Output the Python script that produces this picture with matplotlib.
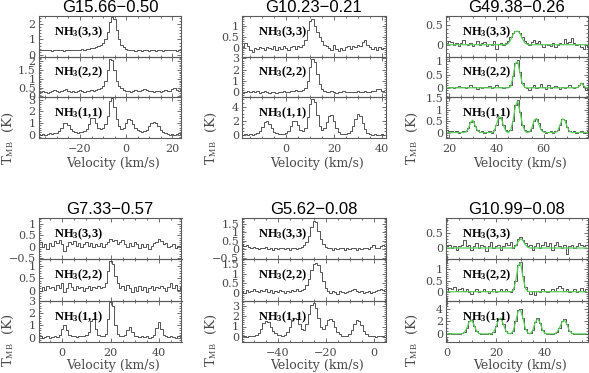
import numpy as np
import matplotlib
matplotlib.use('Agg')
import matplotlib.pyplot as plt
from matplotlib.ticker import MultipleLocator, FuncFormatter

plt.rcParams['font.family'] = 'DejaVu Serif'
plt.rcParams['mathtext.fontset'] = 'custom'
plt.rcParams['mathtext.rm'] = 'Liberation Serif'
plt.rcParams['mathtext.it'] = 'Liberation Serif:italic'
plt.rcParams['mathtext.bf'] = 'Liberation Serif:bold'

# ---------------- data (T_MB in K, 1 km/s channels) ----------------
titles = ['G15.66\u22120.50', 'G10.23\u22120.21', 'G49.38\u22120.26',
          'G7.33\u22120.57', 'G5.62\u22120.08', 'G10.99\u22120.08']
line_labels = [r'NH$_\mathbf{3}$(3,3)', r'NH$_\mathbf{3}$(2,2)', r'NH$_\mathbf{3}$(1,1)']
chan_width = 1.0

# G15.66-0.50, first channel -38 km/s
g15_vstart = -38
g15_33 = [0.3, 0.35, 0.3, 0.3, 0.35, 0.3, 0.25, 0.3, 0.35, 0.3,
          0.3, 0.25, 0.3, 0.35, 0.3, 0.3, 0.35, 0.3, 0.35, 0.4,
          0.35, 0.4, 0.4, 0.45, 0.45, 0.5, 0.55, 0.65, 0.8, 1.05,
          1.45, 2.1, 2.45, 2.3, 1.6, 1.0, 0.65, 0.5, 0.4, 0.35,
          0.3, 0.3, 0.25, 0.3, 0.3, 0.25, 0.3, 0.3, 0.25, 0.3,
          0.3, 0.25, 0.3, 0.3, 0.25, 0.3, 0.35, 0.3, 0.35, 0.3,
          0.25, 0.3, 0.3]
g15_22 = [0.2, 0.25, 0.3, 0.25, 0.2, 0.25, 0.3, 0.35, 0.3, 0.25,
          0.3, 0.35, 0.4, 0.3, 0.25, 0.3, 0.25, 0.3, 0.35, 0.3,
          0.25, 0.3, 0.3, 0.35, 0.3, 0.35, 0.4, 0.45, 0.6, 0.9,
          1.5, 2.1, 2.05, 1.5, 0.9, 0.6, 0.45, 0.35, 0.3, 0.3,
          0.25, 0.3, 0.35, 0.3, 0.3, 0.35, 0.4, 0.35, 0.3, 0.3,
          0.25, 0.3, 0.3, 0.25, 0.3, 0.35, 0.3, 0.3, 0.4, 0.45,
          0.35, 0.3, 0.35]
g15_11 = [0.05, 0.0, 0.05, 0.0, 0.05, 0.1, 0.05, 0.1, 0.15, 0.3,
          0.6, 0.95, 1.0, 0.8, 0.5, 0.3, 0.2, 0.15, 0.2, 0.25,
          0.3, 0.5, 0.9, 1.4, 1.45, 1.0, 0.6, 0.5, 0.6, 0.9,
          1.6, 2.9, 3.1, 2.4, 1.3, 0.7, 0.5, 0.6, 1.0, 1.3,
          1.25, 0.9, 0.6, 0.4, 0.3, 0.25, 0.3, 0.4, 0.7, 1.0,
          1.1, 1.0, 0.7, 0.4, 0.25, 0.1, 0.05, 0.0, 0.05, 0.0,
          0.05, 0.1, 0.05]

# G10.23-0.21, first channel -18 km/s
g1023_vstart = -18
g1023_33 = [0.05, 0.2, 0.1, -0.1, -0.2, 0.0, -0.05, 0.05, 0.0, -0.1,
            0.05, 0.0, -0.05, 0.1, -0.1, 0.05, -0.05, 0.1, 0.0, -0.1,
            0.05, 0.1, -0.05, 0.1, 0.05, 0.15, 0.35, 0.8, 1.2, 1.3,
            1.0, 0.7, 0.5, 0.3, 0.15, 0.1, 0.0, -0.1, 0.15, -0.05,
            -0.15, 0.0, -0.1, 0.05, 0.1, -0.05, 0.1, 0.05, 0.15, 0.1,
            0.25, 0.35, 0.15, 0.05, -0.05, 0.05, -0.1, 0.05, -0.05, 0.0]
g1023_22 = [-0.1, 0.0, 0.1, 0.0, 0.15, 0.05, 0.1, -0.05, 0.0, 0.1,
            0.0, -0.1, 0.0, 0.05, -0.05, 0.0, 0.05, 0.1, 0.0, 0.05,
            0.15, 0.1, 0.2, 0.15, 0.1, 0.2, 0.4, 1.0, 2.2, 2.95,
            2.7, 1.6, 0.7, 0.3, 0.15, 0.05, 0.0, 0.1, 0.0, -0.05,
            0.05, 0.0, 0.1, 0.05, 0.0, 0.05, 0.0, 0.05, 0.1, 0.05,
            0.0, 0.1, 0.05, 0.0, 0.1, 0.15, 0.25, 0.3, 0.15, 0.1]
g1023_11 = [0.0, 0.1, 0.0, 0.05, 0.0, 0.1, 0.2, 0.5, 1.1, 1.8,
            1.95, 1.5, 0.9, 0.4, 0.2, 0.1, 0.05, 0.1, 0.2, 0.5,
            1.2, 1.9, 2.0, 1.4, 0.7, 0.5, 0.9, 2.5, 4.3, 5.0,
            4.6, 2.8, 1.2, 0.7, 0.9, 1.8, 2.7, 2.8, 2.0, 1.0,
            0.4, 0.15, 0.05, 0.1, 0.2, 0.5, 1.2, 2.2, 2.9, 2.7,
            1.7, 0.8, 0.3, 0.1, 0.0, 0.05, -0.05, 0.0, 0.05, 0.0]

# G49.38-0.26, first channel 19 km/s (with model fits)
g49_vstart = 19
g49_33 = [0.05, 0.1, 0.08, 0.0, 0.05, -0.02, 0.05, 0.12, 0.03, 0.0,
          0.05, -0.03, 0.02, 0.1, 0.0, 0.05, 0.08, -0.02, 0.03, 0.0,
          0.1, -0.1, 0.02, 0.05, 0.0, 0.05, 0.1, 0.2, 0.3, 0.35,
          0.35, 0.3, 0.2, 0.1, 0.05, 0.0, 0.08, 0.12, 0.05, 0.1,
          0.02, -0.05, 0.03, 0.0, -0.02, 0.05, -0.05, 0.0, 0.05, 0.02,
          0.15, 0.05, 0.08, 0.18, 0.05, 0.0, 0.02, -0.05, -0.12, 0.0,
          -0.05]
g49_22 = [0.0, 0.05, 0.02, 0.0, 0.05, 0.08, 0.03, 0.05, 0.0, 0.05,
          0.1, 0.05, 0.02, -0.05, 0.03, 0.0, 0.05, 0.02, 0.08, 0.0,
          0.05, 0.1, 0.02, 0.05, 0.0, 0.05, 0.05, 0.1, 0.45, 0.95,
          1.05, 0.6, 0.2, 0.05, 0.0, -0.1, 0.05, 0.1, 0.0, 0.05,
          0.15, 0.05, -0.05, 0.1, 0.0, 0.05, 0.08, 0.02, -0.05, 0.05,
          0.0, 0.03, 0.1, 0.05, 0.0, 0.05, 0.1, 0.2, 0.05, -0.1,
          0.05]
g49_11 = [0.1, 0.08, 0.05, 0.03, 0.05, 0.0, 0.03, 0.05, 0.08, 0.2,
          0.45, 0.5, 0.3, 0.1, 0.03, 0.05, 0.0, 0.02, 0.05, 0.0,
          0.1, 0.35, 0.65, 0.7, 0.35, 0.1, 0.05, 0.1, 0.5, 1.2,
          1.45, 0.9, 0.35, 0.1, 0.05, 0.05, 0.2, 0.5, 0.6, 0.4,
          0.15, 0.05, 0.0, 0.03, 0.05, 0.0, 0.05, 0.1, 0.35, 0.6,
          0.55, 0.25, 0.08, 0.03, 0.05, 0.0, 0.02, 0.05, 0.0, 0.03,
          0.05]
g49_fit33 = [0, 0, 0, 0, 0, 0, 0, 0, 0, 0,
             0, 0, 0, 0, 0, 0, 0, 0, 0, 0,
             0, 0, 0, 0, 0, 0, 0.03, 0.12, 0.25, 0.33,
             0.34, 0.28, 0.15, 0.05, 0.01, 0, 0, 0, 0, 0,
             0, 0, 0, 0, 0, 0, 0, 0, 0, 0,
             0, 0, 0, 0, 0, 0, 0, 0, 0, 0,
             0]
g49_fit22 = [0, 0, 0, 0, 0, 0, 0, 0, 0, 0,
             0, 0, 0, 0, 0, 0, 0, 0, 0, 0,
             0, 0, 0, 0, 0, 0, 0, 0.05, 0.4, 0.92,
             1.0, 0.55, 0.15, 0.02, 0, 0, 0, 0, 0, 0,
             0, 0, 0, 0, 0, 0, 0, 0, 0, 0,
             0, 0, 0, 0, 0, 0, 0.05, 0.18, 0.08, 0,
             0]
g49_fit11 = [0, 0, 0, 0, 0, 0, 0, 0, 0.02, 0.15,
             0.45, 0.55, 0.3, 0.08, 0.01, 0, 0, 0, 0, 0,
             0.05, 0.35, 0.7, 0.65, 0.3, 0.06, 0, 0.1, 0.5, 1.15,
             1.4, 0.9, 0.35, 0.08, 0, 0.03, 0.2, 0.55, 0.62, 0.35,
             0.1, 0.02, 0, 0, 0, 0, 0, 0.08, 0.35, 0.6,
             0.55, 0.25, 0.05, 0, 0, 0, 0, 0, 0, 0,
             0]

# G7.33-0.57, first channel -10 km/s
g733_vstart = -10
g733_33 = [0.1, 0.2, 0.0, 0.1, -0.1, 0.15, 0.05, 0.25, 0.15, 0.3,
           0.1, -0.2, 0.05, 0.2, 0.1, 0.25, 0.05, 0.15, 0.0, 0.1,
           0.2, 0.05, 0.15, 0.0, 0.1, 0.05, 0.15, 0.0, 0.1, 0.2,
           0.35, 0.25, 0.3, 0.1, 0.2, 0.3, 0.1, 0.0, 0.15, 0.05,
           0.2, 0.1, -0.05, 0.1, 0.0, 0.1, -0.1, 0.05, 0.15, 0.2,
           0.35, 0.25, 0.1, 0.15, 0.0, 0.05, 0.1, -0.05, 0.05, 0.0]
g733_22 = [0.1, 0.0, 0.15, 0.05, 0.2, 0.1, 0.15, 0.05, 0.25, 0.1,
           0.3, -0.05, 0.1, 0.3, 0.15, 0.05, 0.2, 0.1, 0.15, 0.0,
           0.1, 0.2, 0.05, 0.15, 0.1, 0.2, 0.1, 0.15, 0.3, 0.8,
           1.2, 1.1, 0.6, 0.3, 0.1, 0.2, 0.05, 0.25, 0.1, -0.05,
           0.15, 0.0, 0.2, 0.05, 0.15, -0.05, 0.1, 0.2, 0.05, 0.15,
           0.1, 0.2, 0.1, 0.0, 0.15, 0.3, 0.1, 0.25, 0.05, 0.15]
g733_11 = [0.05, 0.1, 0.0, 0.05, 0.1, 0.0, 0.05, 0.1, 0.05, 0.2,
           0.7, 1.0, 0.6, 0.2, 0.1, 0.15, 0.05, 0.1, 0.15, 0.1,
           0.2, 0.5, 1.4, 1.55, 0.7, 0.2, 0.1, 0.15, 0.3, 1.5,
           2.95, 2.6, 1.0, 0.3, 0.15, 0.1, 0.2, 0.6, 0.85, 0.5,
           0.15, 0.1, 0.05, 0.1, 0.05, 0.1, 0.0, 0.05, 0.2, 0.8,
           1.25, 0.7, 0.2, 0.1, 0.05, 0.1, 0.05, 0.0, 0.1, 0.05]

# G5.62-0.08, first channel -56 km/s
g562_vstart = -56
g562_33 = [0.15, 0.3, 0.2, 0.25, 0.15, 0.05, 0.15, 0.1, 0.0, 0.1,
           0.05, 0.15, 0.0, 0.05, -0.05, 0.1, 0.0, 0.05, 0.1, 0.0,
           0.05, -0.05, 0.05, 0.1, 0.0, 0.1, 0.15, 0.25, 0.4, 0.8,
           1.3, 1.65, 1.6, 1.1, 0.6, 0.3, 0.15, 0.05, 0.1, -0.05,
           0.05, 0.0, 0.1, 0.05, -0.05, 0.05, 0.0, 0.1, 0.05, -0.05,
           0.05, 0.0, 0.1, 0.05, 0.0, 0.15, 0.25, 0.1, 0.05, 0.2,
           0.25, 0.2]
g562_22 = [0.05, 0.1, 0.0, 0.15, 0.05, 0.1, 0.2, 0.1, 0.05, 0.15,
           0.1, 0.2, 0.05, 0.15, 0.0, 0.1, 0.05, 0.15, 0.1, 0.0,
           0.1, 0.05, 0.15, 0.1, 0.2, 0.1, 0.15, 0.2, 0.4, 0.75,
           1.2, 1.5, 1.55, 1.45, 1.1, 0.6, 0.25, 0.1, 0.0, 0.1,
           0.05, -0.05, 0.1, 0.05, 0.0, 0.05, 0.1, 0.15, 0.2, 0.1,
           0.05, 0.1, 0.0, 0.05, 0.1, 0.0, 0.05, 0.1, 0.15, 0.2,
           0.15, 0.1]
g562_11 = [0.05, 0.1, 0.05, 0.0, 0.1, 0.05, 0.1, 0.2, 0.4, 0.8,
           1.3, 1.5, 1.45, 1.0, 0.6, 0.35, 0.2, 0.15, 0.1, 0.2,
           0.5, 1.0, 1.6, 1.8, 1.7, 1.2, 0.8, 0.7, 1.2, 2.2,
           3.1, 3.3, 2.8, 1.8, 1.0, 0.8, 1.1, 1.6, 1.7, 1.5,
           1.0, 0.5, 0.25, 0.1, 0.05, 0.1, 0.3, 0.7, 1.2, 1.6,
           1.55, 1.1, 0.6, 0.25, 0.1, 0.05, 0.1, 0.0, 0.05, 0.1,
           0.05, 0.0]

# G10.99-0.08, first channel 0 km/s (with model fits)
g1099_vstart = 0
g1099_33 = [0.05, 0.1, 0.0, 0.05, -0.05, 0.05, 0.1, 0.25, 0.05, 0.1,
            -0.05, 0.05, 0.15, 0.0, 0.1, 0.05, -0.1, 0.05, 0.2, 0.0,
            0.05, 0.1, -0.05, 0.05, 0.15, 0.1, 0.2, 0.0, 0.1, 0.3,
            0.35, 0.25, 0.15, 0.05, 0.1, -0.05, 0.05, 0.15, 0.0, 0.1,
            0.2, 0.05, 0.15, -0.05, 0.1, 0.2, 0.05, 0.0, 0.1, -0.2,
            0.05, 0.1, 0.0, 0.05, 0.15, 0.1, 0.05, 0.1]
g1099_22 = [0.05, 0.15, 0.1, 0.2, 0.05, 0.1, 0.15, 0.05, 0.1, 0.0,
            -0.1, 0.05, 0.1, 0.0, 0.05, 0.1, 0.05, -0.05, 0.05, 0.1,
            0.0, 0.05, 0.1, 0.05, 0.1, 0.05, 0.0, 0.1, 0.5, 1.2,
            1.35, 0.7, 0.2, 0.05, -0.1, 0.05, -0.15, 0.05, 0.0, 0.1,
            0.05, 0.0, 0.05, 0.1, 0.05, 0.15, 0.25, 0.15, 0.05, 0.1,
            0.0, 0.05, 0.1, 0.0, 0.05, 0.15, 0.05, 0.1]
g1099_11 = [0.0, 0.1, 0.0, -0.1, 0.05, 0.0, 0.1, 0.3, 1.0, 2.0,
            2.2, 1.3, 0.4, 0.1, 0.0, 0.05, -0.05, 0.1, 0.05, 0.3,
            1.2, 2.4, 2.6, 1.5, 0.5, 0.1, 0.1, 0.5, 2.0, 3.8,
            4.0, 2.6, 0.8, 0.2, 0.1, 0.6, 1.9, 2.5, 1.8, 0.6,
            0.15, 0.0, 0.05, -0.05, 0.1, 0.3, 1.0, 2.0, 2.3, 1.5,
            0.5, 0.1, 0.0, 0.05, -0.05, 0.0, 0.05, 0.0]
g1099_fit33 = [0, 0, 0, 0, 0, 0, 0, 0, 0, 0,
               0, 0, 0, 0, 0, 0, 0, 0, 0, 0,
               0, 0, 0, 0, 0, 0, 0, 0, 0.05, 0.2,
               0.3, 0.25, 0.1, 0.02, 0, 0, 0, 0, 0, 0,
               0, 0, 0, 0, 0, 0, 0, 0, 0, 0,
               0, 0, 0, 0, 0, 0, 0, 0]
g1099_fit22 = [0, 0, 0, 0, 0, 0, 0, 0, 0, 0,
               0, 0, 0, 0, 0, 0, 0, 0, 0, 0,
               0, 0, 0, 0, 0, 0, 0, 0.05, 0.45, 1.15,
               1.3, 0.65, 0.15, 0.02, 0, 0, 0, 0, 0, 0,
               0, 0, 0, 0, 0, 0, 0, 0, 0, 0,
               0, 0, 0, 0, 0, 0, 0, 0]
g1099_fit11 = [0, 0, 0, 0, 0, 0, 0, 0.2, 0.9, 1.9,
               2.2, 1.4, 0.45, 0.08, 0, 0, 0, 0, 0, 0.25,
               1.1, 2.3, 2.5, 1.5, 0.45, 0.08, 0, 0.5, 1.9, 3.6,
               3.8, 2.5, 0.8, 0.15, 0, 0.55, 1.8, 2.4, 1.8, 0.6,
               0.1, 0, 0, 0, 0, 0.3, 1.0, 1.9, 2.2, 1.5,
               0.5, 0.08, 0, 0, 0, 0, 0, 0]

# ---------------- layout / style ----------------
W, H = 589, 373
fig = plt.figure(figsize=(W / 100, H / 100), dpi=100)

col_x = [(38.5, 181.5), (242.0, 385.5), (446.0, 587.5)]
row_y = [(16.0, 138.0), (218.0, 342.0)]
title_y = [7, 209]
xlab_y = [163, 366]
ylab_y = [138, 340]
ylab_x = [8, 211, 412]

panels = [
    dict(vs=g15_vstart, spec=[g15_33, g15_22, g15_11], fit=None,
         xlim=(-38, 24), ylims=[(-0.1, 2.5), (-0.05, 2.25), (-0.3, 3.2)],
         ymaj=[1, 0.5, 1], ymin=[0.2, 0.1, 0.2]),
    dict(vs=g1023_vstart, spec=[g1023_33, g1023_22, g1023_11], fit=None,
         xlim=(-18.5, 41.5), ylims=[(-0.4, 1.45), (-0.45, 3.15), (-0.45, 5.3)],
         ymaj=[0.5, 1, 2], ymin=[0.1, 0.2, 0.5]),
    dict(vs=g49_vstart, spec=[g49_33, g49_22, g49_11],
         fit=[g49_fit33, g49_fit22, g49_fit11],
         xlim=(18.6, 78.6), ylims=[(-0.3, 0.72), (-0.36, 1.18), (-0.24, 1.55)],
         ymaj=[0.5, 0.5, 0.5], ymin=[0.1, 0.1, 0.1]),
    dict(vs=g733_vstart, spec=[g733_33, g733_22, g733_11], fit=None,
         xlim=(-9.8, 49.3), ylims=[(-0.55, 1.25), (-0.4, 1.27), (-0.36, 3.03)],
         ymaj=[0.5, 0.5, 1], ymin=[0.1, 0.1, 0.2]),
    dict(vs=g562_vstart, spec=[g562_33, g562_22, g562_11], fit=None,
         xlim=(-55, 5), ylims=[(-0.6, 1.85), (-0.4, 1.75), (-0.5, 3.5)],
         ymaj=[0.5, 0.5, 1], ymin=[0.1, 0.1, 0.2]),
    dict(vs=g1099_vstart, spec=[g1099_33, g1099_22, g1099_11],
         fit=[g1099_fit33, g1099_fit22, g1099_fit11],
         xlim=(-0.5, 57.4), ylims=[(-0.37, 0.98), (-0.4, 1.45), (-1.3, 5.3)],
         ymaj=[0.5, 0.5, 2], ymin=[0.1, 0.1, 0.5]),
]

frame_c = '#5a5a5a'
line_c = '#4a4a4a'
fit_c = '#5ccf5c'
lab_c = '#4a4a4a'


def fmt(v, pos):
    s = f'{v:g}'
    if s == '-0':
        s = '0'
    return s.replace('-', '\u2212')


for k, p in enumerate(panels):
    r, c = divmod(k, 3)
    x0, x1 = col_x[c]
    y0, y1 = row_y[r]
    h = (y1 - y0) / 3.0
    for j in range(3):
        top = y0 + j * h
        ax = fig.add_axes([x0 / W, 1 - (top + h) / H, (x1 - x0) / W, h / H])
        vals = np.array(p['spec'][j])
        v = p['vs'] + chan_width * np.arange(len(vals))
        ax.plot(v, vals, drawstyle='steps-mid', color=line_c, lw=0.65)
        if p['fit'] is not None:
            fv = np.array(p['fit'][j])
            ax.plot(v, fv, color=fit_c, lw=0.9)
        ax.set_xlim(*p['xlim'])
        ax.set_ylim(*p['ylims'][j])
        ax.xaxis.set_major_locator(MultipleLocator(20))
        ax.xaxis.set_minor_locator(MultipleLocator(5))
        ax.yaxis.set_major_locator(MultipleLocator(p['ymaj'][j]))
        ax.yaxis.set_minor_locator(MultipleLocator(p['ymin'][j]))
        ax.yaxis.set_major_formatter(FuncFormatter(fmt))
        ax.xaxis.set_major_formatter(FuncFormatter(fmt))
        ax.tick_params(which='both', direction='in', top=True, right=True,
                       color=frame_c, width=0.6, labelsize=8, labelcolor=lab_c)
        ax.tick_params(which='major', length=3.2)
        ax.tick_params(which='minor', length=1.6)
        ax.tick_params(axis='y', pad=2)
        ax.tick_params(axis='x', pad=4)
        if j < 2:
            ax.tick_params(axis='x', labelbottom=False)
        for sp in ax.spines.values():
            sp.set_color(frame_c)
            sp.set_linewidth(0.8)
        ax.patch.set_alpha(0)
        ax.text(0.11, 0.53, line_labels[j], transform=ax.transAxes,
                fontsize=9, family='Liberation Serif', fontweight='bold',
                va='baseline', ha='left', color='black')
    xc = (x0 + x1) / 2
    fig.text(xc / W, 1 - title_y[r] / H, titles[k], ha='center', va='center',
             fontsize=12, family='Liberation Sans', color='black')
    fig.text((xc + 3) / W, 1 - xlab_y[r] / H, 'Velocity (km/s)', ha='center',
             va='center', fontsize=9, color=lab_c)
    fig.text(ylab_x[c] / W, 1 - ylab_y[r] / H, r'T$_{\rm MB}$  (K)', rotation=90,
             ha='center', va='center', fontsize=9.5, color=lab_c)

fig.savefig('out.png', dpi=100)
